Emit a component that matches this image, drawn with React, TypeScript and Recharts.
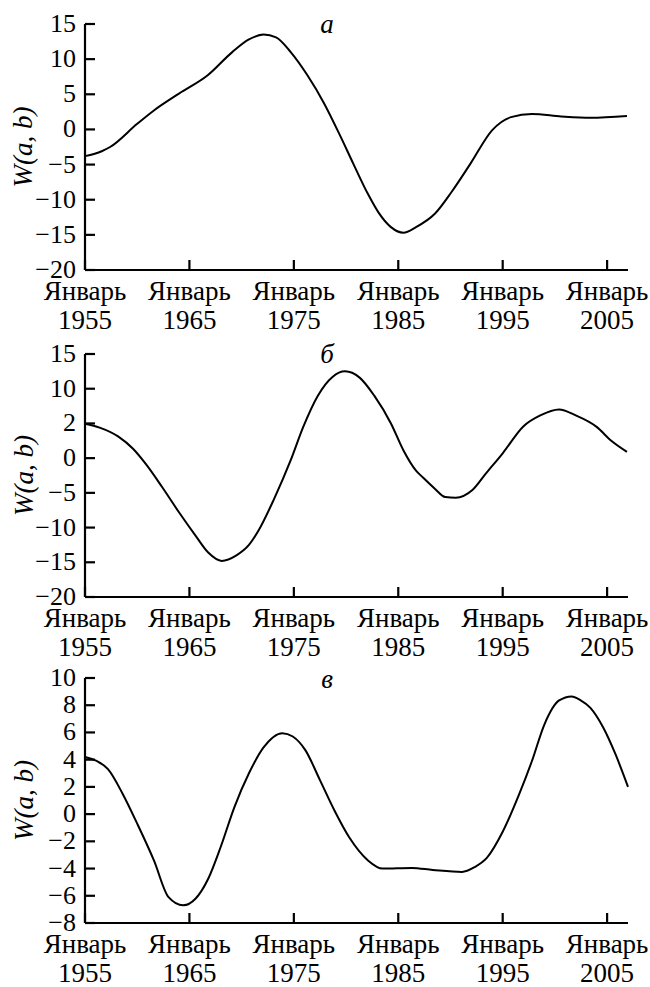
import React from 'react';
import { LineChart, Line, XAxis, YAxis } from 'recharts';

const FONT = '"Liberation Serif", serif';

const monthLabel = 'Январь';
const xTicks = [1955, 1965, 1975, 1985, 1995, 2005];
const panelTitles = ['а', 'б', 'в'];

// panel а
const yearsA = [1955, 1956.6, 1957.4, 1960, 1961.6, 1964, 1966.75, 1969.1, 1970.7, 1972.1, 1973.3, 1974.7, 1976.3, 1977.9, 1979.5, 1980.7, 1982.1, 1983.1, 1984.3, 1985.5, 1986.7, 1988.5, 1990.1, 1991.9, 1994, 1995.8, 1997.8, 2000.6, 2003.4, 2006.9];
const valuesA = [-3.8, -3.1, -2.5, 0.8, 2.7, 5.1, 7.7, 11.0, 12.8, 13.5, 13.1, 11.0, 7.7, 3.7, -1.1, -4.9, -9.2, -11.8, -13.9, -14.7, -13.9, -12.0, -8.9, -4.9, -0.1, 1.75, 2.2, 1.85, 1.65, 1.9];
const ticksA = [-20, -15, -10, -5, 0, 5, 10, 15];
const tickLabelsA = ['−20', '−15', '−10', '−5', '0', '5', '10', '15'];

// panel б (the "2" label sits where 5 should be, as in the original)
const yearsB = [1955, 1956.4, 1958.2, 1959.6, 1960.8, 1962.4, 1964, 1965.6, 1966.8, 1968.1, 1969.5, 1970.7, 1971.7, 1973.1, 1974.7, 1975.9, 1977.3, 1978.7, 1979.9, 1981.3, 1982.7, 1984.3, 1985.5, 1986.7, 1987.3, 1988.5, 1989.5, 1990.5, 1992.1, 1993.4, 1995, 1997, 1998.6, 2000.4, 2002, 2004, 2005.4, 2006.9];
const valuesB = [4.95, 4.4, 3.1, 1.35, -0.8, -4.2, -7.8, -11.2, -13.6, -14.8, -14.0, -12.5, -10.2, -5.9, -0.3, 4.5, 9.0, 11.7, 12.5, 11.6, 9.0, 5.0, 1.1, -1.8, -2.7, -4.4, -5.6, -5.7, -4.6, -2.2, 0.7, 4.6, 6.15, 7.0, 6.15, 4.5, 2.5, 0.9];
const ticksB = [-20, -15, -10, -5, 0, 5, 10, 15];
const tickLabelsB = ['−20', '−15', '−10', '−5', '0', '2', '10', '15'];

// panel в
const yearsC = [1955, 1956, 1957.2, 1958.6, 1960, 1961.6, 1963, 1964.4, 1965.6, 1966.8, 1968, 1969.3, 1970.7, 1972.1, 1973.9, 1974.9, 1976.1, 1977.5, 1978.9, 1980.3, 1982.1, 1983.5, 1986.3, 1988.3, 1991.1, 1992.3, 1993.5, 1995, 1996.6, 1997.8, 1999, 2000.4, 2001.6, 2002.4, 2003.4, 2004.6, 2005.8, 2007];
const valuesC = [4.2, 3.95, 3.3, 1.5, -0.7, -3.4, -6.1, -6.7, -6.2, -4.75, -2.4, 0.5, 3.0, 4.9, 5.95, 5.7, 4.7, 2.5, 0.25, -1.7, -3.4, -4.0, -3.95, -4.1, -4.25, -3.9, -3.2, -1.3, 1.5, 3.9, 6.6, 8.35, 8.65, 8.4, 7.8, 6.4, 4.4, 2.0];
const ticksC = [-8, -6, -4, -2, 0, 2, 4, 6, 8, 10];
const tickLabelsC = ['−8', '−6', '−4', '−2', '0', '2', '4', '6', '8', '10'];

const toRows = (years: number[], values: number[]) =>
    years.map((year, i) => ({ year, value: values[i] }));

const panels = [
    { top: 0, height: 330, rows: toRows(yearsA, valuesA), ticks: ticksA, labels: tickLabelsA, titleY: 33 },
    { top: 330, height: 327, rows: toRows(yearsB, valuesB), ticks: ticksB, labels: tickLabelsB, titleY: 363 },
    { top: 654, height: 329, rows: toRows(yearsC, valuesC), ticks: ticksC, labels: tickLabelsC, titleY: 688 },
];

const serif = (size: number, extra: React.CSSProperties = {}): React.CSSProperties => ({
    fontFamily: FONT,
    fontSize: size,
    color: '#000',
    margin: 0,
    padding: 0,
    whiteSpace: 'nowrap',
    ...extra,
});

const YTick = (props: any) => {
    const { x, y, payload, ticks, labels } = props;
    const ax = x + 9;
    const label = labels[ticks.indexOf(payload.value)];
    return (
        <g>
            <line x1={ax} x2={ax + 10} y1={y} y2={y} stroke="#000" strokeWidth={2.2} />
            <foreignObject x={x - 70} y={y - 20} width={70} height={40} style={{ overflow: 'visible' }}>
                <div style={serif(26, { textAlign: 'right', lineHeight: '40px' })}>{label}</div>
            </foreignObject>
        </g>
    );
};

const XTick = (props: any) => {
    const { x, y, payload } = props;
    return (
        <g>
            <line x1={x} x2={x} y1={y} y2={y - 10} stroke="#000" strokeWidth={2.2} />
            <foreignObject x={x - 60} y={y + 7} width={120} height={62} style={{ overflow: 'visible' }}>
                <div style={serif(27, { textAlign: 'center', lineHeight: '29px' })}>
                    {monthLabel}
                    <br />
                    {payload.value}
                </div>
            </foreignObject>
        </g>
    );
};

const WLabel = (props: any) => {
    const vb = props.viewBox || { x: 0, y: 0, width: 85, height: 245 };
    const tx = vb.x + 32;
    const ty = vb.y + vb.height / 2;
    return (
        <g transform={`rotate(-90, ${tx}, ${ty})`}>
            <foreignObject x={tx - 80} y={ty - 24} width={160} height={32} style={{ overflow: 'visible' }}>
                <div style={serif(27, { textAlign: 'center', lineHeight: '30px', fontStyle: 'italic' })}>
                    W(a, b)
                </div>
            </foreignObject>
        </g>
    );
};

const Panel = ({ panel }: { panel: typeof panels[number] }) => (
    <div style={{ position: 'absolute', left: 0, top: panel.top }}>
        <LineChart
            width={650}
            height={panel.height}
            data={panel.rows}
            margin={{ top: 24, right: 22, bottom: 0, left: 0 }}
        >
            <XAxis
                dataKey="year"
                type="number"
                domain={[1955, 2007]}
                ticks={xTicks}
                interval={0}
                height={60}
                tickSize={0}
                tickMargin={0}
                tickLine={false}
                axisLine={{ stroke: '#000', strokeWidth: 2.2 }}
                tick={<XTick />}
            />
            <YAxis
                type="number"
                domain={[panel.ticks[0], panel.ticks[panel.ticks.length - 1]]}
                ticks={panel.ticks}
                interval={0}
                width={85}
                tickSize={0}
                tickMargin={9}
                tickLine={false}
                axisLine={{ stroke: '#000', strokeWidth: 2.2 }}
                tick={<YTick ticks={panel.ticks} labels={panel.labels} />}
                label={<WLabel />}
            />
            <Line
                type="monotone"
                dataKey="value"
                stroke="#000"
                strokeWidth={2}
                dot={false}
                activeDot={false}
                isAnimationActive={false}
            />
        </LineChart>
    </div>
);

export default function App() {
    return (
        <div style={{ position: 'absolute', left: 0, top: 0, width: 650, height: 987, background: '#fff' }}>
            <style>{'.recharts-surface { overflow: visible; }'}</style>
            {panels.map((p, i) => (
                <Panel key={i} panel={p} />
            ))}
            {panels.map((p, i) => (
                <div
                    key={i}
                    style={{
                        position: 'absolute',
                        left: 277,
                        top: p.titleY - 24,
                        width: 100,
                        textAlign: 'center',
                        ...serif(27, { lineHeight: '30px', fontStyle: 'italic' }),
                    }}
                >
                    {panelTitles[i]}
                </div>
            ))}
        </div>
    );
}
